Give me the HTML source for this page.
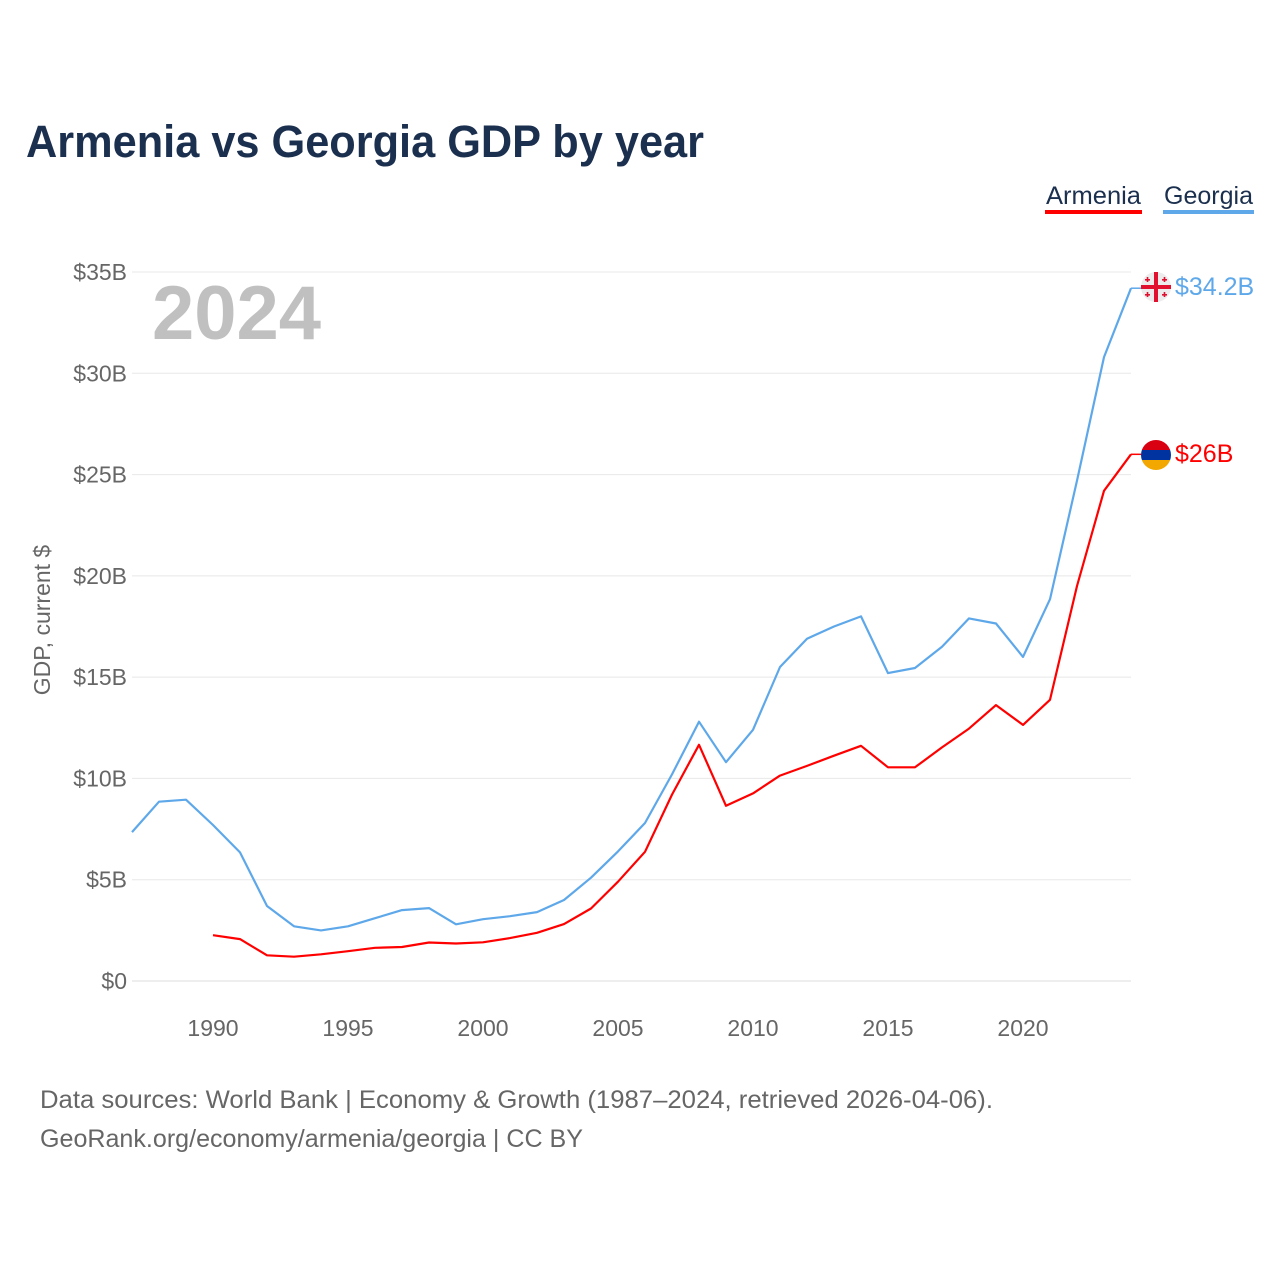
<!DOCTYPE html>
<html><head><meta charset="utf-8"><style>
body{margin:0;background:#fff;font-family:"Liberation Sans",sans-serif}
svg{display:block}
</style></head><body>
<svg width="1280" height="1280" viewBox="0 0 1280 1280">
<text x="26" y="157" font-size="45" font-weight="bold" fill="#1b2f4e" textLength="678" lengthAdjust="spacingAndGlyphs">Armenia vs Georgia GDP by year</text>
<g>
<text x="1046" y="204" font-size="25" fill="#1b2f4e" textLength="95" lengthAdjust="spacingAndGlyphs">Armenia</text>
<rect x="1045" y="210" width="97" height="4" fill="#ff0000"/>
<text x="1164" y="204" font-size="25" fill="#1b2f4e" textLength="89" lengthAdjust="spacingAndGlyphs">Georgia</text>
<rect x="1163" y="210" width="91" height="4" fill="#5ea8ea"/>
</g>
<text x="152" y="339" font-size="76" font-weight="bold" fill="#c0c0c0">2024</text>
<g id="grid"></g><g id="yt"></g><g id="xt"></g>
<text transform="translate(50,620) rotate(-90)" text-anchor="middle" font-size="23" fill="#666">GDP, current $</text>
<g id="series"></g>
<g>
<circle cx="1156" cy="287" r="15" fill="#ececec"/>
<rect x="1141" y="285" width="30" height="4" fill="#e0102e"/><rect x="1154" y="272" width="4" height="30" fill="#e0102e"/>
<g fill="#e0102e"><rect x="1145" y="279" width="5" height="1.6"/><rect x="1146.7" y="277" width="1.6" height="5"/>
<rect x="1162" y="279" width="5" height="1.6"/><rect x="1163.7" y="277" width="1.6" height="5"/>
<rect x="1145" y="294" width="5" height="1.6"/><rect x="1146.7" y="292" width="1.6" height="5"/>
<rect x="1162" y="294" width="5" height="1.6"/><rect x="1163.7" y="292" width="1.6" height="5"/></g>
</g>
<g>
<clipPath id="ac"><circle cx="1156" cy="455" r="15"/></clipPath>
<g clip-path="url(#ac)"><rect x="1141" y="440" width="30" height="10" fill="#d90012"/><rect x="1141" y="450" width="30" height="10" fill="#0033a0"/><rect x="1141" y="460" width="30" height="10" fill="#f2a800"/></g>
</g>
<text x="1175" y="295" font-size="25" fill="#5ea8ea">$34.2B</text>
<text x="1175" y="462" font-size="25" fill="#ff0000">$26B</text>
<text x="40" y="1108" font-size="25" fill="#666" textLength="953" lengthAdjust="spacingAndGlyphs">Data sources: World Bank | Economy &amp; Growth (1987–2024, retrieved 2026-04-06).</text>
<text x="40" y="1147" font-size="25" fill="#666" textLength="543" lengthAdjust="spacingAndGlyphs">GeoRank.org/economy/armenia/georgia | CC BY</text>
</svg>
<script>
const years=[1987,1988,1989,1990,1991,1992,1993,1994,1995,1996,1997,1998,1999,2000,2001,2002,2003,2004,2005,2006,2007,2008,2009,2010,2011,2012,2013,2014,2015,2016,2017,2018,2019,2020,2021,2022,2023,2024];
const georgia=[7.35,8.85,8.95,7.7,6.35,3.7,2.7,2.5,2.7,3.1,3.5,3.6,2.8,3.05,3.2,3.4,4.0,5.1,6.4,7.8,10.2,12.8,10.8,12.4,15.5,16.9,17.5,18.0,15.2,15.45,16.5,17.9,17.65,16.0,18.85,24.7,30.8,34.2];
const armenia=[null,null,null,2.26,2.07,1.27,1.2,1.32,1.47,1.64,1.68,1.9,1.85,1.91,2.12,2.38,2.81,3.58,4.9,6.38,9.2,11.66,8.65,9.26,10.14,10.62,11.12,11.61,10.55,10.55,11.53,12.46,13.62,12.64,13.88,19.5,24.2,26.0];
const yTicks=[0,5,10,15,20,25,30,35];
const yTickLabels=["$0","$5B","$10B","$15B","$20B","$25B","$30B","$35B"];
const xTicks=[1990,1995,2000,2005,2010,2015,2020];
const NS="http://www.w3.org/2000/svg";
const x=v=>132+(v-1987)*(1131-132)/37;
const y=v=>981-v*(981-272)/35;
function mk(t,a,p){const e=document.createElementNS(NS,t);for(const k in a)e.setAttribute(k,a[k]);p.appendChild(e);return e;}
const grid=document.getElementById('grid'),yt=document.getElementById('yt'),xt=document.getElementById('xt'),ser=document.getElementById('series');
yTicks.forEach((v,i)=>{
 const l=mk('line',{x1:132,x2:1131,y1:y(v),y2:y(v),stroke:i==0?'#ddd':'#e8e8e8','stroke-width':1},grid);
 
 
 const t=mk('text',{x:127,y:y(v)+8,'text-anchor':'end','font-size':23,fill:'#666'},yt);
 t.textContent=yTickLabels[i];
 
 
});
xTicks.forEach(v=>{
 const t=mk('text',{x:x(v),y:1036,'text-anchor':'middle','font-size':23,fill:'#666'},xt);
 t.textContent=v;
 
 
});
function line(vals,color,name){
 let d='';vals.forEach((v,i)=>{if(v==null)return;d+=(d?'L':'M')+x(years[i]).toFixed(1)+','+y(v).toFixed(1);});
 const p=mk('path',{d:d,fill:'none',stroke:color,'stroke-width':2.2,'stroke-linejoin':'round'},ser);
 
 
 const last=vals[vals.length-1];
 const c=mk('line',{x1:x(2024),x2:x(2024)+10,y1:y(last),y2:y(last),stroke:color,'stroke-width':1.5},ser);
 
 
}
line(georgia,'#5ea8ea','georgia-line');
line(armenia,'#ff0000','armenia-line');
</script>
</body></html>
